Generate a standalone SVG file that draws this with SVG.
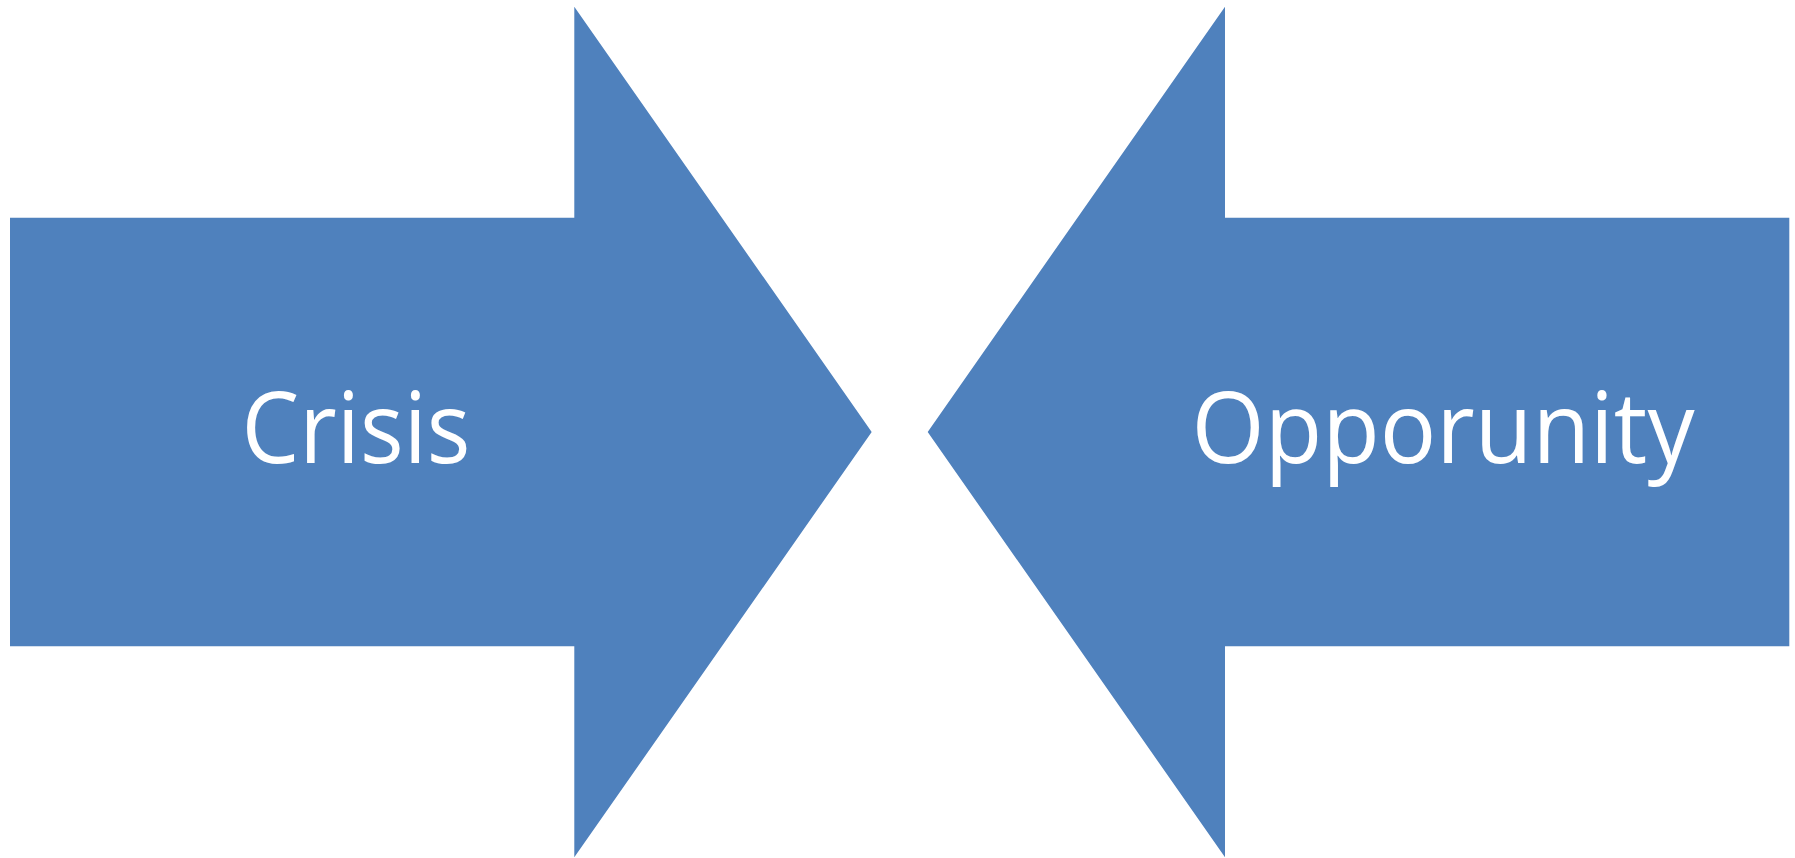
<svg xmlns="http://www.w3.org/2000/svg" width="1795" height="858" viewBox="0 0 1795 858">
  <style>
    .arrow { fill: #4F81BD; stroke: none; }
    .label { fill: #FFFFFF; font-family: "Open Sans", "Liberation Sans", sans-serif; font-size: 98px; text-anchor: middle; }
  </style>
  <rect width="1795" height="858" fill="#FFFFFF"/>
  <g id="crisis">
    <path class="arrow" d="M10,217.7 H574.3 V6.7 L871.7,432 L574.3,857.3 V646.3 H10 Z"/>
    <text class="label" x="356" y="463" textLength="229" lengthAdjust="spacingAndGlyphs">Crisis</text>
  </g>
  <g id="opportunity">
    <path class="arrow" d="M1789.3,217.7 H1225 V6.7 L927.7,432 L1225,857.3 V646.3 H1789.3 Z"/>
    <text class="label" x="1443" y="463" textLength="503" lengthAdjust="spacingAndGlyphs">Opporunity</text>
  </g>
  <g id="connectors"/>
</svg>
